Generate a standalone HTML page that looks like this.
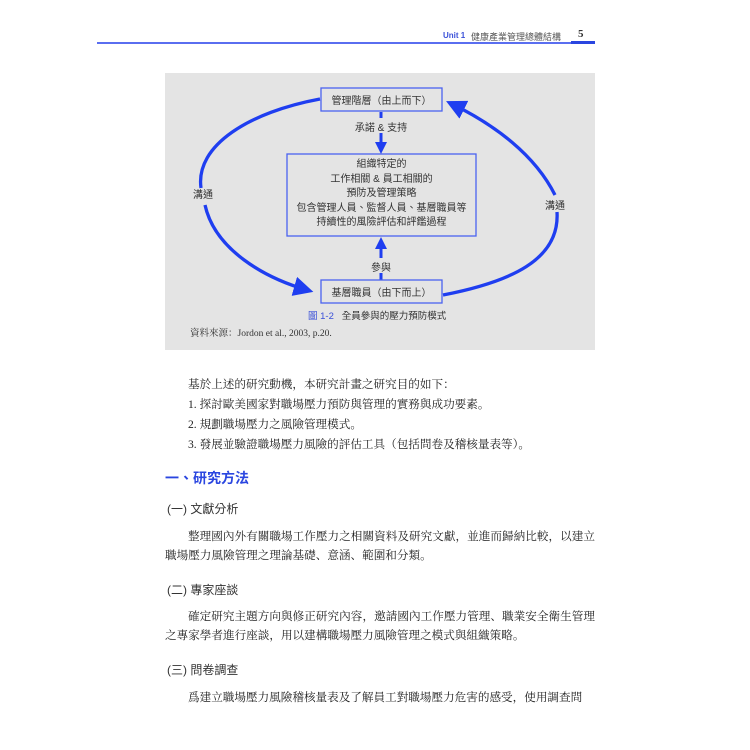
<!DOCTYPE html>
<html><head><meta charset="utf-8"><style>
body{margin:0;width:750px;height:750px;background:#fff;position:relative;overflow:hidden;font-family:"Liberation Serif","Noto Serif CJK SC","Noto Sans CJK TC",serif;color:#222}
.a{position:absolute;white-space:nowrap}
.t{font-size:11.6px;line-height:14px}
.s{font-family:"Liberation Sans","Noto Sans CJK TC",sans-serif}
p{margin:0}
.para{position:absolute;left:165px;width:430px;font-size:11.6px;line-height:19px;text-align:justify;text-indent:23px}
</style></head><body>
<div style="position:absolute;left:97px;top:42px;width:498px;height:2px;background:#5a6ef0"></div>
<div style="position:absolute;left:571px;top:41px;width:24px;height:3px;background:#2a46e0"></div>
<div class="a s" style="left:443px;top:31px;font-size:8px;font-weight:bold;color:#3a50d8">Unit 1</div>
<div class="a s" style="left:471px;top:30px;font-size:9px;color:#555">健康產業管理總體結構</div>
<div class="a" style="left:578px;top:28px;font-size:11px;font-weight:bold;color:#333">5</div>

<div style="position:absolute;left:165px;top:73px;width:430px;height:277px;background:#e4e4e4"></div>
<svg style="position:absolute;left:0;top:0" width="750" height="750">
<defs><marker id="ah" markerWidth="6" markerHeight="6" refX="4" refY="3" orient="auto" markerUnits="strokeWidth"><path d="M0,0 L6,3 L0,6 z" fill="#1f3ef0"/></marker></defs>
<g fill="none" stroke="#1f3ef0" stroke-width="3.3">
<path d="M320,99 C250,112 195,145 201,188"/>
<path d="M205,205 C215,250 265,278 307,290" marker-end="url(#ah)"/>
<path d="M443,295 C510,282 560,260 557,212"/>
<path d="M555,195 C535,155 495,125 452,104" marker-end="url(#ah)"/>
</g>
<g stroke="#1f3ef0" stroke-width="3">
<line x1="381" y1="112" x2="381" y2="118"/>
<line x1="381" y1="133" x2="381" y2="145"/>
<line x1="381" y1="258" x2="381" y2="249"/>
<line x1="381" y1="273" x2="381" y2="280"/>
</g>
<path d="M375,142 L387,142 L381,154 z" fill="#1f3ef0"/>
<path d="M375,249 L387,249 L381,237 z" fill="#1f3ef0"/>
<g fill="#e4e4e4" stroke="#4a62f0" stroke-width="1.3">
<rect x="321" y="88" width="121" height="23"/>
<rect x="287" y="154" width="189" height="82"/>
<rect x="321" y="280" width="121" height="23"/>
</g>
</svg>
<div class="a s" style="left:321px;top:92px;width:121px;text-align:center;font-size:10px;color:#333">管理階層（由上而下）</div>
<div class="a s" style="left:321px;top:284px;width:121px;text-align:center;font-size:10px;color:#333">基層職員（由下而上）</div>
<div class="a s" style="left:331px;top:119px;width:100px;text-align:center;font-size:10px;color:#333">承諾 &amp; 支持</div>
<div class="a s" style="left:361px;top:259px;width:40px;text-align:center;font-size:10px;color:#333">參與</div>
<div class="a s" style="left:193px;top:186px;font-size:10px;color:#333">溝通</div>
<div class="a s" style="left:545px;top:197px;font-size:10px;color:#333">溝通</div>
<div class="a s" style="left:287px;top:158px;width:189px;text-align:center;font-size:10px;line-height:14.6px;color:#333">組織特定的<br>工作相關 &amp; 員工相關的<br>預防及管理策略<br>包含管理人員、監督人員、基層職員等<br>持續性的風險評估和評鑑過程</div>
<div class="a s" style="left:308px;top:308px;font-size:9.5px;color:#333"><span style="color:#3a50d8">圖 1-2</span>&nbsp;&nbsp; 全員參與的壓力預防模式</div>
<div class="a" style="left:190px;top:325px;font-size:9.5px;color:#333">資料來源：Jordon et al., 2003, p.20.</div>

<div class="a t" style="left:188px;top:378px">基於上述的研究動機，本研究計畫之研究目的如下：</div>
<div class="a t" style="left:188px;top:398px">1. 探討歐美國家對職場壓力預防與管理的實務與成功要素。</div>
<div class="a t" style="left:188px;top:418px">2. 規劃職場壓力之風險管理模式。</div>
<div class="a t" style="left:188px;top:438px">3. 發展並驗證職場壓力風險的評估工具（包括問卷及稽核量表等）。</div>
<div class="a s" style="left:165px;top:468px;font-size:14px;font-weight:bold;color:#2a46e0">一、研究方法</div>
<div class="a s" style="left:167px;top:500px;font-size:12px;color:#333">(一) 文獻分析</div>
<p class="para" style="top:527px">整理國內外有關職場工作壓力之相關資料及研究文獻，並進而歸納比較，以建立職場壓力風險管理之理論基礎、意涵、範圍和分類。</p>
<div class="a s" style="left:167px;top:581px;font-size:12px;color:#333">(二) 專家座談</div>
<p class="para" style="top:607px">確定研究主題方向與修正研究內容，邀請國內工作壓力管理、職業安全衛生管理之專家學者進行座談，用以建構職場壓力風險管理之模式與組織策略。</p>
<div class="a s" style="left:167px;top:661px;font-size:12px;color:#333">(三) 問卷調查</div>
<div class="a t" style="left:188px;top:691px">爲建立職場壓力風險稽核量表及了解員工對職場壓力危害的感受，使用調查問</div>
</body></html>
